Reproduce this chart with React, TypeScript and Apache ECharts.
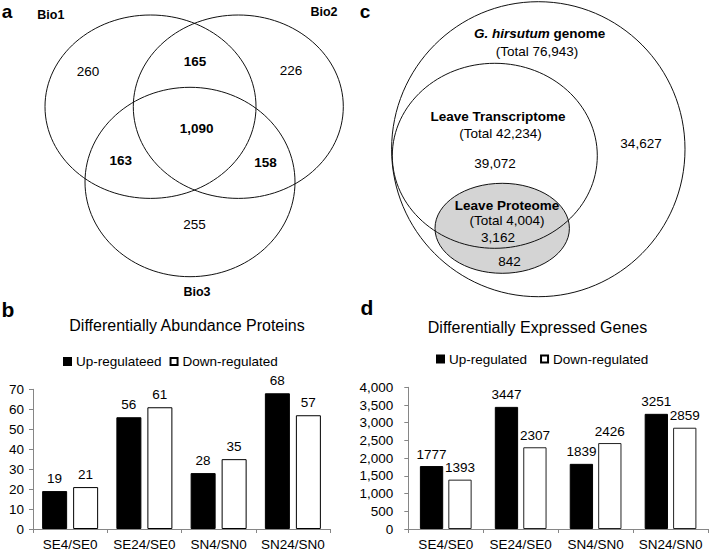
import React, { useEffect, useRef } from "react";
import * as echarts from "echarts";

const FONT = "'Liberation Sans', Arial, Helvetica, sans-serif";

// ---- bar chart data ----
const comparisons = ["SE4/SE0", "SE24/SE0", "SN4/SN0", "SN24/SN0"];
const proteinUp = [19, 56, 28, 68];
const proteinDown = [21, 61, 35, 57];
const geneUp = [1777, 3447, 1839, 3251];
const geneDown = [1393, 2307, 2426, 2859];
const proteinAxis = [0, 70, 10]; // min, max, step
const geneAxis = [0, 4000, 500];
const proteinTitle = "Differentially Abundance Proteins";
const geneTitle = "Differentially Expressed Genes";
const proteinSeriesNames = ["Up-regulateed", "Down-regulated"];
const geneSeriesNames = ["Up-regulated", "Down-regulated"];

// ---- Venn (panel a) data ----
const replicateNames = ["Bio1", "Bio2", "Bio3"];
// regions: Bio1 only, Bio1∩Bio2, Bio2 only, all three, Bio1∩Bio3, Bio2∩Bio3, Bio3 only
const replicateRegionValues = [260, 165, 226, 1090, 163, 158, 255];
const replicateRegionBold = [false, true, false, true, true, true, false];

// ---- nested Venn (panel c) data ----
const setNames = ["G. hirsutum genome", "Leave Transcriptome", "Leave Proteome"];
const setTotals = [76943, 42234, 4004];
// regions: genome only, transcriptome only, proteome∩transcriptome, proteome only
const setRegionValues = [34627, 39072, 3162, 842];

const panelLetters = ["a", "b", "c", "d"];

const fmt = (v: number) => v.toLocaleString("en-US");

// ---- layout (positions only) ----
const replicateEllipses = [
  { cx: 150.5, cy: 106.7, rx: 105.5, ry: 91.7 },
  { cx: 238.3, cy: 106.7, rx: 105, ry: 91.7 },
  { cx: 190, cy: 182, rx: 105, ry: 94.7 },
];
const replicateNamePos = [
  [50.8, 15],
  [324, 12],
  [197, 292],
];
const replicateRegionPos = [
  [88, 71.7],
  [195, 61.7],
  [291, 70.7],
  [196.7, 128.3],
  [120.8, 160],
  [265.5, 162.7],
  [194.5, 224.3],
];
const setEllipses = [
  { cx: 538.3, cy: 149.2, rx: 146.7, ry: 147.5 },
  { cx: 494.8, cy: 155.8, rx: 102.5, ry: 92.5 },
  { cx: 502.2, cy: 228.3, rx: 67.2, ry: 45 },
];
const setNamePos = [
  [539.7, 33.3],
  [498, 116.7],
  [507, 205.7],
];
const setTotalPos = [
  [537, 51.7],
  [500.5, 133.3],
  [507, 220.7],
];
const setRegionPos = [
  [641, 143.3],
  [495, 163.3],
  [498, 237.7],
  [509.5, 261],
];
const letterPos = [
  [7, 11.3],
  [8, 309],
  [365, 11.3],
  [367, 307],
];
const letterSize = [19, 21, 19, 21];

function txt(x: number, y: number, text: string, size: number, bold = false, extra: any = {}) {
  return {
    type: "text",
    x,
    y,
    silent: true,
    style: {
      text,
      fontFamily: FONT,
      fontSize: size,
      fontWeight: bold ? "bold" : "normal",
      fill: "#000",
      align: "center",
      verticalAlign: "middle",
      textAlign: "center",
      textVerticalAlign: "middle",
      ...extra,
    },
  };
}

function buildGraphics() {
  const g: any[] = [];
  // panel letters
  panelLetters.forEach((l, i) => {
    g.push(txt(letterPos[i][0], letterPos[i][1], l, letterSize[i], true));
  });

  // panel a
  replicateEllipses.forEach((e) => {
    g.push({
      type: "ellipse",
      silent: true,
      shape: e,
      style: { fill: "none", stroke: "#111", lineWidth: 1 },
    });
  });
  replicateNames.forEach((n, i) => {
    g.push(txt(replicateNamePos[i][0], replicateNamePos[i][1], n, 12.5, true));
  });
  replicateRegionValues.forEach((v, i) => {
    g.push(txt(replicateRegionPos[i][0], replicateRegionPos[i][1], fmt(v), 13.5, replicateRegionBold[i]));
  });

  // panel c
  g.push({
    type: "ellipse",
    silent: true,
    shape: setEllipses[2],
    style: { fill: "#d4d4d4", stroke: "#111", lineWidth: 1 },
  });
  [0, 1].forEach((i) => {
    g.push({
      type: "ellipse",
      silent: true,
      shape: setEllipses[i],
      style: { fill: "none", stroke: "#111", lineWidth: 1 },
    });
  });
  const parts = setNames[0].split(" ");
  const species = parts.slice(0, 2).join(" ");
  const rest = parts.slice(2).join(" ");
  g.push({
    type: "text",
    x: setNamePos[0][0],
    y: setNamePos[0][1],
    silent: true,
    style: {
      text: "{i|" + species + "} {b|" + rest + "}",
      align: "center",
      verticalAlign: "middle",
      textAlign: "center",
      textVerticalAlign: "middle",
      fontFamily: FONT,
      fontSize: 13.5,
      fontWeight: "bold",
      fill: "#000",
      rich: {
        i: { fontFamily: FONT, fontSize: 13.5, fontWeight: "bold", fontStyle: "italic", fill: "#000" },
        b: { fontFamily: FONT, fontSize: 13.5, fontWeight: "bold", fill: "#000" },
      },
    },
  });
  [1, 2].forEach((i) => {
    g.push(txt(setNamePos[i][0], setNamePos[i][1], setNames[i], 13.5, true));
  });
  setTotals.forEach((t, i) => {
    g.push(txt(setTotalPos[i][0], setTotalPos[i][1], "(Total " + fmt(t) + ")", 13.5));
  });
  setRegionValues.forEach((v, i) => {
    g.push(txt(setRegionPos[i][0], setRegionPos[i][1], fmt(v), 13.5));
  });

  // bar chart titles
  g.push(txt(187, 325, proteinTitle, 16));
  g.push(txt(537.5, 327, geneTitle, 16));
  return g;
}

const axisCommon = {
  axisLine: { show: true, lineStyle: { color: "#868686", width: 1 } },
  axisTick: { show: true, length: 4, inside: false, lineStyle: { color: "#868686" } },
  splitLine: { show: false },
};

function makeOption(): any {
  const labelCommon = {
    show: true,
    position: "top",
    distance: 5,
    fontFamily: FONT,
    fontSize: 13.5,
    color: "#000",
  };
  return {
    animation: false,
    backgroundColor: "#fff",
    textStyle: { fontFamily: FONT },
    graphic: buildGraphics(),
    legend: [
      {
        data: proteinSeriesNames,
        left: 63,
        top: 354.5,
        itemWidth: 7,
        itemHeight: 7,
        itemGap: 8,
        icon: "rect",
        selectedMode: false,
        padding: 0,
        textStyle: { fontFamily: FONT, fontSize: 13.5, color: "#000" },
      },
      {
        data: geneSeriesNames,
        left: 436,
        top: 352,
        itemWidth: 7,
        itemHeight: 7,
        itemGap: 13,
        icon: "rect",
        selectedMode: false,
        padding: 0,
        textStyle: { fontFamily: FONT, fontSize: 13.5, color: "#000" },
      },
    ],
    grid: [
      { left: 33, top: 389.3, width: 297, height: 140, containLabel: false },
      { left: 408.3, top: 387.3, width: 299.7, height: 142, containLabel: false },
    ],
    xAxis: [0, 1].map((i) => ({
      type: "category",
      gridIndex: i,
      data: comparisons,
      ...axisCommon,
      axisTick: { show: true, length: 4, alignWithLabel: false, lineStyle: { color: "#868686" } },
      axisLabel: { fontFamily: FONT, fontSize: 13.5, color: "#000", margin: 8, interval: 0 },
    })),
    yAxis: [
      {
        type: "value",
        gridIndex: 0,
        min: proteinAxis[0],
        max: proteinAxis[1],
        interval: proteinAxis[2],
        ...axisCommon,
        axisLabel: { fontFamily: FONT, fontSize: 13.5, color: "#000", margin: 9 },
      },
      {
        type: "value",
        gridIndex: 1,
        min: geneAxis[0],
        max: geneAxis[1],
        interval: geneAxis[2],
        ...axisCommon,
        axisLabel: {
          fontFamily: FONT,
          fontSize: 13.5,
          color: "#000",
          margin: 15,
          formatter: (v: number) => fmt(v),
        },
      },
    ],
    series: [
      {
        name: proteinSeriesNames[0],
        type: "bar",
        xAxisIndex: 0,
        yAxisIndex: 0,
        data: proteinUp,
        barWidth: 25,
        barGap: "24%",
        itemStyle: { color: "#000", borderColor: "#000", borderWidth: 1 },
        label: { ...labelCommon, distance: 6 },
      },
      {
        name: proteinSeriesNames[1],
        type: "bar",
        xAxisIndex: 0,
        yAxisIndex: 0,
        data: proteinDown,
        barWidth: 25,
        barGap: "24%",
        itemStyle: { color: "#fff", borderColor: "#000", borderWidth: 1 },
        label: { ...labelCommon, distance: 6 },
      },
      {
        name: geneSeriesNames[0],
        type: "bar",
        xAxisIndex: 1,
        yAxisIndex: 1,
        data: geneUp,
        barWidth: 23.3,
        barGap: "22%",
        itemStyle: { color: "#000", borderColor: "#000", borderWidth: 1 },
        label: { ...labelCommon, distance: 5 },
      },
      {
        name: geneSeriesNames[1],
        type: "bar",
        xAxisIndex: 1,
        yAxisIndex: 1,
        data: geneDown,
        barWidth: 23.3,
        barGap: "22%",
        itemStyle: { color: "#fff", borderColor: "#222", borderWidth: 1 },
        label: { ...labelCommon, distance: 5 },
      },
    ],
  };
}

export default function App() {
  const ref = useRef<HTMLDivElement>(null);
  useEffect(() => {
    if (!ref.current) return;
    const chart = echarts.init(ref.current, undefined, { renderer: "svg" });
    chart.setOption(makeOption());
    return () => {
      chart.dispose();
    };
  }, []);
  return (
    <div
      ref={ref}
      style={{ position: "absolute", left: 0, top: 0, width: 709, height: 551, background: "#fff" }}
    />
  );
}
